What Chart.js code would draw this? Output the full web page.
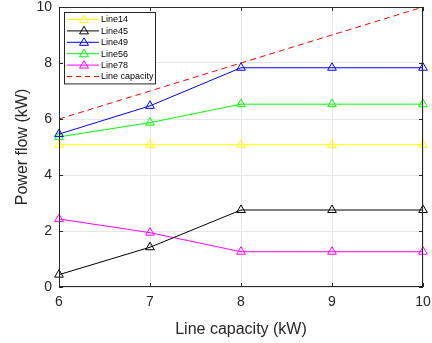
<!DOCTYPE html>
<html>
<head>
<meta charset="utf-8">
<script src="https://cdn.jsdelivr.net/npm/chart.js@4"></script>
<style>
  html, body { margin: 0; padding: 0; background: #fff; }
  #wrap { width: 432px; height: 343px; }
</style>
</head>
<body>
<div id="wrap"><canvas id="flowChart" width="432" height="343"></canvas></div>
<script>
// Data
const capacities = [6, 7, 8, 9, 10];
const line14 = [5.08, 5.08, 5.08, 5.08, 5.08];
const line45 = [0.44, 1.42, 2.75, 2.75, 2.75];
const line49 = [5.46, 6.47, 7.83, 7.83, 7.83];
const line56 = [5.36, 5.87, 6.53, 6.53, 6.53];
const line78 = [2.43, 1.94, 1.26, 1.26, 1.26];
const lineCapacity = [6, 7, 8, 9, 10];
const yTicks = [0, 2, 4, 6, 8, 10];

const FONT = 'Liberation Sans, Arial, Helvetica, sans-serif';

function series(label, values, color, dashed) {
    return {
        label: label,
        data: capacities.map((c, i) => ({ x: c, y: values[i] })),
        borderColor: color,
        backgroundColor: color,
        borderWidth: 1,
        borderDash: dashed ? [6, 4] : [],
        pointStyle: dashed ? false : 'triangle',
        pointRadius: dashed ? 0 : 5,
        pointBorderColor: color,
        pointBackgroundColor: 'rgba(0,0,0,0)',
        pointBorderWidth: 1,
        tension: 0
    };
}

// scale overhang would push the plot area in; the layout padding handles it
function noOverhang(s) {
    s.paddingTop = 0; s.paddingBottom = 0;
    s.paddingLeft = 0; s.paddingRight = 0;
}

// Box around the plot, inward ticks and an in-plot legend (MATLAB look)
const matlabFrame = {
    id: 'matlabFrame',
    afterDatasetsDraw(chart) {
        const { ctx, chartArea: a, scales } = chart;
        ctx.save();
        ctx.strokeStyle = '#262626';
        ctx.lineWidth = 1;
        ctx.strokeRect(a.left + 0.5, a.top + 0.5, a.right - a.left - 1, a.bottom - a.top - 1);
        ctx.beginPath();
        yTicks.forEach(v => {
            const y = Math.round(scales.y.getPixelForValue(v)) + 0.5;
            ctx.moveTo(a.left, y); ctx.lineTo(a.left + 4, y);
            ctx.moveTo(a.right, y); ctx.lineTo(a.right - 4, y);
        });
        capacities.forEach(v => {
            const x = Math.round(scales.x.getPixelForValue(v)) + 0.5;
            ctx.moveTo(x, a.bottom); ctx.lineTo(x, a.bottom - 4);
            ctx.moveTo(x, a.top); ctx.lineTo(x, a.top + 4);
        });
        ctx.stroke();

        // legend box
        const lx = a.left + 5, ly = a.top + 5, lw = 91, rowH = 11.4;
        const sets = chart.data.datasets;
        const lh = sets.length * rowH + 3;
        ctx.fillStyle = '#fff';
        ctx.fillRect(lx, ly, lw, lh);
        ctx.strokeStyle = '#262626';
        ctx.strokeRect(lx + 0.5, ly + 0.5, lw, lh);
        ctx.font = '9px ' + FONT;
        ctx.textBaseline = 'middle';
        sets.forEach((ds, i) => {
            const y = ly + 7.5 + i * rowH;
            ctx.strokeStyle = ds.borderColor;
            ctx.lineWidth = 1;
            ctx.setLineDash(ds.borderDash.length ? [5, 4] : []);
            ctx.beginPath();
            ctx.moveTo(lx + 3, y); ctx.lineTo(lx + 35, y);
            ctx.stroke();
            ctx.setLineDash([]);
            if (ds.pointStyle) {
                const cx = lx + 20;
                ctx.beginPath();
                ctx.moveTo(cx, y - 4.5); ctx.lineTo(cx + 4.5, y + 3); ctx.lineTo(cx - 4.5, y + 3);
                ctx.closePath();
                ctx.stroke();
            }
            ctx.fillStyle = '#000';
            ctx.fillText(ds.label, lx + 37, y + 0.5);
        });
        ctx.restore();
    }
};

const ctx = document.getElementById('flowChart').getContext('2d');
new Chart(ctx, {
    type: 'line',
    data: {
        datasets: [
            series('Line14', line14, '#ffff00', false),
            series('Line45', line45, '#000000', false),
            series('Line49', line49, '#0000ff', false),
            series('Line56', line56, '#00ff00', false),
            series('Line78', line78, '#ff00ff', false),
            series('Line capacity', lineCapacity, '#ff0000', true)
        ]
    },
    options: {
        responsive: false,
        animation: false,
        clip: false,
        layout: { padding: { top: 7, right: 9, left: 0, bottom: 0 } },
        plugins: { legend: { display: false }, tooltip: { enabled: false } },
        scales: {
            x: {
                type: 'linear',
                min: 6, max: 10,
                afterBuildTicks: s => { s.ticks = capacities.map(v => ({ value: v })); },
                afterFit: s => { s.height = 56; noOverhang(s); },
                grid: { color: '#e6e6e6', drawTicks: false },
                border: { display: false },
                ticks: { color: '#262626', padding: 7, font: { family: FONT, size: 14 } },
                title: { display: true, text: 'Line capacity (kW)', color: '#262626', padding: { top: 3 }, font: { family: FONT, size: 16 } }
            },
            y: {
                min: 0, max: 10,
                afterBuildTicks: s => { s.ticks = yTicks.map(v => ({ value: v })); },
                afterFit: s => { s.width = 59; noOverhang(s); },
                grid: { color: '#e6e6e6', drawTicks: false },
                border: { display: false },
                ticks: { color: '#262626', padding: 7, font: { family: FONT, size: 14 } },
                title: { display: true, text: 'Power flow (kW)', color: '#262626', padding: { top: 13, bottom: 0 }, font: { family: FONT, size: 16 } }
            }
        }
    },
    plugins: [matlabFrame]
});
</script>
</body>
</html>
